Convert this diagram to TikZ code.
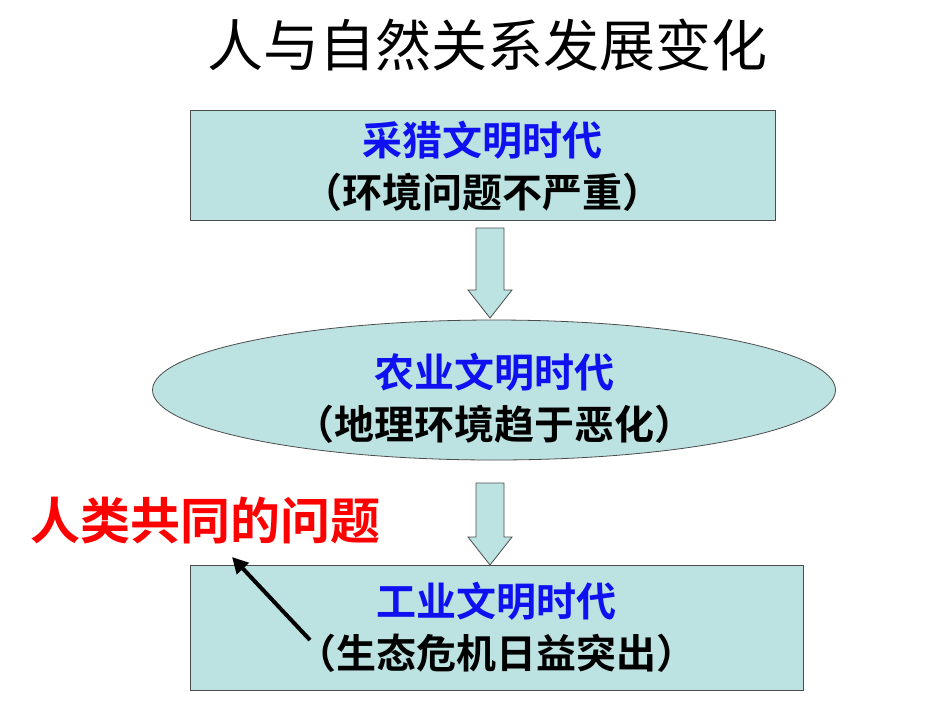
\documentclass[tikz,border=0pt]{standalone}
\usepackage{fontspec}
\newfontfamily\cjk{Noto Sans CJK SC}
\newfontfamily\cjkb{Noto Sans CJK SC Bold}
\usetikzlibrary{shapes.geometric,arrows.meta}
\definecolor{boxfill}{HTML}{BCE2E2}
\definecolor{tblue}{HTML}{1010F0}
\tikzset{
  panel/.style={draw=black!70,fill=boxfill,line width=0.8pt},
  btxt/.style={align=center,font=\cjkb\fontsize{40}{52}\selectfont},
}
\newcommand{\blockarrow}[3]{% x, top, bottom
  \draw[panel] (#1-14,#2) -- (#1+14,#2) -- (#1+14,#3-28) -- (#1+22,#3-28) -- (#1,#3) -- (#1-22,#3-28) -- (#1-14,#3-28) -- cycle;}
\begin{document}
\begin{tikzpicture}[x=1pt,y=-1pt]
\useasboundingbox (0,0) rectangle (950,713);
\node (title) at (487,45) {\cjk\fontsize{56}{60}\selectfont 人与自然关系发展变化};
\draw[panel] (190,110) rectangle (775,220);
\node[btxt] (b1) at (482,166) {\textcolor{tblue}{采猎文明时代}\\（环境问题不严重）};
\blockarrow{490}{228}{318}
\node[ellipse,panel,minimum width=683pt,minimum height=140pt] (e) at (494,390) {};
\node[btxt] at (494,398) {\textcolor{tblue}{农业文明时代}\\（地理环境趋于恶化）};
\blockarrow{490}{483}{565}
\draw[panel] (190,565) rectangle (803,690);
\node[btxt] (b3) at (496,627) {\textcolor{tblue}{工业文明时代}\\（生态危机日益突出）};
\node[font=\cjkb\fontsize{50}{56}\selectfont,text=red,anchor=west,inner sep=0pt] (red) at (30,521) {人类共同的问题};
\coordinate (tail) at (310,640);
\coordinate (tip) at (232,557);
\draw[line width=4pt,-{Triangle[length=16pt,width=16pt]}] (tail) -- (tip);
\end{tikzpicture}
\end{document}
